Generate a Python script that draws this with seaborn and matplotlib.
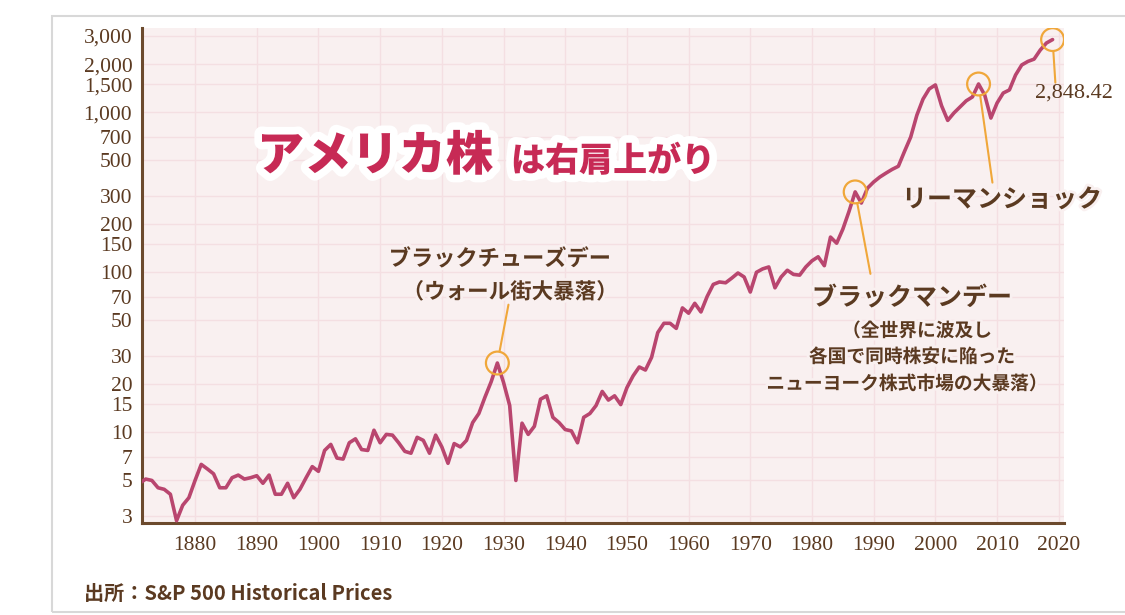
import matplotlib
matplotlib.use("Agg")
import matplotlib.pyplot as plt
import matplotlib.patheffects as pe
from matplotlib.patches import Rectangle
from matplotlib.ticker import FixedLocator, FixedFormatter, NullLocator
import pandas as pd
import seaborn as sns

# ---------------- data ----------------
years = list(range(1871, 2020))
prices = [
    4.8, 5.1, 5.0, 4.5, 4.4, 4.1, 2.8, 3.5, 3.9,            # 1871-1879
    5.0, 6.3, 5.9, 5.5, 4.5, 4.5, 5.2, 5.4, 5.1, 5.2,       # 1880-1889
    5.35, 4.8, 5.4, 4.1, 4.1, 4.8, 3.9, 4.4, 5.2, 6.1,      # 1890-1899
    5.7, 7.7, 8.4, 6.9, 6.8, 8.6, 9.1, 7.8, 7.7, 10.3,      # 1900-1909
    8.6, 9.7, 9.6, 8.6, 7.6, 7.4, 9.3, 8.9, 7.4, 9.6,       # 1910-1919
    8.1, 6.4, 8.5, 8.1, 8.9, 11.5, 13.1, 16.6, 20.7, 27.1,  # 1920-1929
    20.5, 14.7, 5.0, 11.4, 9.7, 10.9, 16.1, 16.9, 12.4, 11.5,  # 1930-1939
    10.4, 10.2, 8.6, 12.4, 13.1, 14.7, 18.0, 15.9, 16.9, 14.9,  # 1940-1949
    19.0, 22.5, 25.6, 24.5, 29.4, 42, 48, 48, 44.6, 59.9,   # 1950-1959
    55.5, 64, 56.5, 70.5, 84, 87, 86, 92, 99, 93.5,         # 1960-1969
    75.3, 100, 105, 108, 80, 93.5, 103, 97, 96, 108,        # 1970-1979
    118, 125, 110, 166, 152, 186, 240, 318, 271, 336,       # 1980-1989
    367, 394, 417, 440, 460, 570, 700, 960, 1210, 1400,     # 1990-1999
    1483, 1100, 890, 990, 1081, 1180, 1247, 1503, 1282, 921,  # 2000-2009
    1143, 1320, 1380, 1711, 1977, 2080, 2150, 2450, 2711, 2848.42,  # 2010-2019
]
assert len(years) == len(prices)

y_ticks = [3, 5, 7, 10, 15, 20, 30, 50, 70, 100, 150, 200, 300, 500,
           700, 1000, 1500, 2000, 3000]
y_tick_labels = [f"{v:,}" for v in y_ticks]
x_ticks = list(range(1880, 2021, 10))
x_tick_labels = [str(v) for v in x_ticks]

title_main = "アメリカ株"
title_sub = "は右肩上がり"
ev_tuesday = ["ブラックチューズデー", "（ウォール街大暴落）"]
ev_monday = "ブラックマンデー"
ev_monday_note = ["（全世界に波及し", "各国で同時株安に陥った", "ニューヨーク株式市場の大暴落）"]
ev_lehman = "リーマンショック"
events_year = [1929, 1987, 2007, 2019]
source_text = "出所：S&P 500 Historical Prices"

df = pd.DataFrame({"year": years, "price": prices})

# ---------------- styling ----------------
sns.set_style("white")
plt.rcParams["font.family"] = ["Noto Sans CJK JP", "DejaVu Sans"]

W, H = 1125, 615
BROWN = "#5b3a21"
LINE = "#b9466f"
ORANGE = "#f0a73a"
CRIMSON = "#c72a55"
GRID = "#f4dfe2"
BG = "#f9f0f0"

fig = plt.figure(figsize=(W / 100, H / 100), dpi=100)
fig.patch.set_facecolor("white")


def fx(x):
    return x / W


def fy(y):
    return 1 - y / H


# outer light frame
fig.patches.append(Rectangle((fx(52), fy(612)), fx(1140) - fx(52), fy(16) - fy(612),
                             transform=fig.transFigure, fill=False,
                             edgecolor="#d8d8d8", linewidth=1.5, zorder=0))

ax = fig.add_axes([fx(142), fy(523), fx(1064) - fx(142), fy(28) - fy(523)])
ax.set_facecolor(BG)

sns.lineplot(data=df, x="year", y="price", ax=ax, color=LINE, linewidth=2.6,
             zorder=3, legend=False)

ax.set_yscale("log")
ax.set_ylim(2.71, 3365)
ax.set_xlim(1871.4, 2020.85)

ax.yaxis.set_major_locator(FixedLocator(y_ticks))
ax.yaxis.set_major_formatter(FixedFormatter(y_tick_labels))
ax.yaxis.set_minor_locator(NullLocator())
ax.xaxis.set_major_locator(FixedLocator(x_ticks))
ax.xaxis.set_major_formatter(FixedFormatter(x_tick_labels))

ax.grid(True, color=GRID, linewidth=1.0, zorder=0)
ax.set_axisbelow(True)
ax.set_xlabel("")
ax.set_ylabel("")

for s in ["top", "right"]:
    ax.spines[s].set_visible(False)
for s in ["left", "bottom"]:
    ax.spines[s].set_color("#6c4a2d")
    ax.spines[s].set_linewidth(2.2)

ax.tick_params(axis="both", length=0, labelcolor=BROWN, labelsize=15.5)
ax.tick_params(axis="y", pad=7)
ax.tick_params(axis="x", pad=9)
for lab in ax.get_xticklabels() + ax.get_yticklabels():
    lab.set_family(["Liberation Serif", "DejaVu Serif"])

# event circles
ev_prices = [df.loc[df.year == y, "price"].iloc[0] for y in events_year]
ax.scatter(events_year, ev_prices, s=270, facecolors="none", edgecolors=ORANGE,
           linewidths=1.6, zorder=4)

# leader lines (offsets in points)
leader_offsets = [(8, 42), (11, -59), (10, -71), (2, -31)]
for yr, pr, off in zip(events_year, ev_prices, leader_offsets):
    ax.annotate("", xy=(yr, pr), xytext=off, textcoords="offset points",
                arrowprops=dict(arrowstyle="-", color=ORANGE, lw=1.5,
                                shrinkA=0, shrinkB=8.5), zorder=4)

# title with white outline
stroke_big = [pe.withStroke(linewidth=11, foreground="white")]
fig.text(fx(257), fy(156), title_main, ha="left", va="center", fontsize=34,
         fontweight="black", color=CRIMSON, path_effects=stroke_big, zorder=5)
fig.text(fx(511), fy(161), title_sub, ha="left", va="center", fontsize=24.5,
         fontweight="black", color=CRIMSON, path_effects=stroke_big, zorder=5)

stroke = [pe.withStroke(linewidth=4, foreground=BG)]
fig.text(fx(500), fy(259), ev_tuesday[0], ha="center", va="center", fontsize=16,
         fontweight="bold", color=BROWN, path_effects=stroke)
fig.text(fx(510), fy(292), ev_tuesday[1], ha="center", va="center", fontsize=15.5,
         fontweight="bold", color=BROWN, path_effects=stroke)

fig.text(fx(912), fy(298), ev_monday, ha="center", va="center", fontsize=18,
         fontweight="bold", color=BROWN, path_effects=stroke)
for txt, cx, cy in zip(ev_monday_note, [917, 912, 907], [331, 357, 384]):
    fig.text(fx(cx), fy(cy), txt, ha="center", va="center", fontsize=13.5,
             fontweight="bold", color=BROWN, path_effects=stroke)

fig.text(fx(1002), fy(200), ev_lehman, ha="center", va="center", fontsize=18,
         fontweight="bold", color=BROWN, path_effects=stroke)

fig.text(fx(1074), fy(93), f"{prices[-1]:,.2f}", ha="center", va="center",
         fontsize=16, color=BROWN, family=["Liberation Serif", "DejaVu Serif"])

fig.text(fx(84), fy(593), source_text, ha="left", va="center", fontsize=14.5,
         fontweight="bold", color=BROWN)

fig.savefig("out.png", dpi=100, facecolor="white")
